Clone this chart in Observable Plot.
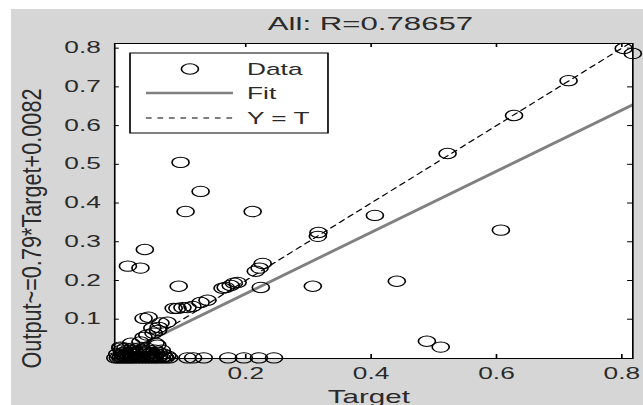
<!DOCTYPE html>
<html><head><meta charset="utf-8">
<script src="https://cdn.jsdelivr.net/npm/d3@7"></script>
<script src="https://cdn.jsdelivr.net/npm/@observablehq/plot@0.6"></script>
<style>
html,body{margin:0;padding:0;background:#fff;overflow:hidden;}
#wrap{position:absolute;left:11px;top:9px;width:632px;height:396px;background:#d6d6d6;}
</style></head><body><div id="wrap"></div>
<script>
// ---- data ----
const targets = [
  0.803, 0.8175, 0.715, 0.628, 0.522, 0.406, 0.607, 0.441, 0.489, 0.511,
  0.316, 0.315, 0.307, 0.096, 0.128, 0.104, 0.211, 0.039, 0.012, 0.032,
  0.093, 0.224, 0.227, 0.216, 0.222, 0.181, 0.168, 0.163, 0.176, 0.187,
  0.085, 0.099, 0.115, 0.128, 0.139, 0.091, 0.107, 0.037, 0.045, 0.064,
  0.075, 0.051, 0.061, 0.043, 0.053, 0.060, 0.037, 0.056, 0.059, 0.032,
  0.017, 0.000,
  0.107, 0.116, 0.133, 0.172, 0.197, 0.221, 0.245,
  -0.008, -0.004, 0.000, 0.004, 0.008, 0.012, 0.016, 0.020, 0.025, 0.030,
  0.035, 0.040, 0.045, 0.050, 0.055, 0.060, 0.066, 0.072, 0.078,
  -0.005, 0.003, 0.010, 0.018, 0.027, 0.036, 0.046, 0.057, 0.068,
  0.002, 0.012, 0.022, 0.033, 0.044, 0.055, 0.066,
  0.006, 0.031, 0.052, 0.075,
  0.001, 0.009, 0.014, 0.021, 0.028, 0.034, 0.041, 0.048, 0.054, 0.062, 0.070,
  0.005, 0.015, 0.024, 0.038, 0.049, 0.061,
  0.000, 0.008, 0.019, 0.029, 0.042
];
const outputs = [
  0.799, 0.786, 0.716, 0.626, 0.528, 0.368, 0.330, 0.198, 0.043, 0.028,
  0.324, 0.314, 0.185, 0.505, 0.430, 0.378, 0.378, 0.280, 0.237, 0.232,
  0.185, 0.182, 0.244, 0.224, 0.232, 0.193, 0.182, 0.180, 0.187, 0.195,
  0.128, 0.130, 0.133, 0.143, 0.149, 0.128, 0.130, 0.102, 0.105, 0.090,
  0.092, 0.077, 0.079, 0.059, 0.064, 0.071, 0.053, 0.038, 0.033, 0.041,
  0.038, 0.028,
  0, 0, 0, 0, 0, 0, 0,
  0, 0, 0, 0, 0, 0, 0, 0, 0, 0,
  0, 0, 0, 0, 0, 0, 0, 0, 0,
  0.010, 0.010, 0.010, 0.010, 0.010, 0.010, 0.010, 0.010, 0.010,
  0.020, 0.020, 0.020, 0.020, 0.020, 0.020, 0.020,
  0.005, 0.005, 0.005, 0.005,
  0.003, 0.003, 0.003, 0.003, 0.003, 0.003, 0.003, 0.003, 0.003, 0.003, 0.003,
  0.014, 0.014, 0.014, 0.014, 0.014, 0.014,
  0.025, 0.025, 0.025, 0.025, 0.025
];
const xTicks = [0.2, 0.4, 0.6, 0.8];
const yTicks = [0.1, 0.2, 0.3, 0.4, 0.5, 0.6, 0.7, 0.8];
const xLimits = [-0.009, 0.8175];
const yLimits = [-0.0015, 0.812];
const fitSlope = 0.79;
const fitIntercept = 0.0082;
const titleText = "All: R=0.78657";
const xLabelText = "Target";
const yLabelText = "Output~=0.79*Target+0.0082";
const legendLabels = ["Data", "Fit", "Y = T"];

// ---- layout (the original image is stretched horizontally) ----
const W = 385, H = 396;
const mL = 62.7, mR = 6.7, mT = 34, mB = 47;
const frameW = W - mL - mR, frameH = H - mT - mB;
const font = "Liberation Sans, Arial, Helvetica, sans-serif";

const points = targets.map((t, i) => ({t, o: outputs[i]}));
const fitLine = xLimits.map(x => ({x, y: fitSlope * x + fitIntercept}));
const idLine = xLimits.map(x => ({x, y: x}));

const plot = Plot.plot({
  width: W, height: H,
  marginLeft: mL, marginRight: mR, marginTop: mT, marginBottom: mB,
  style: {background: "transparent", fontFamily: font, fontSize: "16px", color: "#2a2a2a"},
  x: {domain: xLimits},
  y: {domain: yLimits},
  marks: [
    Plot.frame({fill: "white", stroke: null}),
    Plot.tickX(xTicks, {x: d => d, insetTop: frameH - 4, stroke: "#000"}),
    Plot.tickX(xTicks, {x: d => d, insetBottom: frameH - 4, stroke: "#000"}),
    Plot.tickY(yTicks, {y: d => d, insetRight: frameW - 3, stroke: "#000"}),
    Plot.tickY(yTicks, {y: d => d, insetLeft: frameW - 3, stroke: "#000"}),
    Plot.axisX({ticks: xTicks, tickSize: 0, tickPadding: 9, tickFormat: d3.format(".1f"), fontSize: 16, label: null}),
    Plot.axisY({ticks: yTicks, tickSize: 0, tickPadding: 8.5, tickFormat: d3.format(".1f"), fontSize: 16, label: null}),
    Plot.line(idLine, {x: "x", y: "y", stroke: "#000", strokeWidth: 1, strokeDasharray: "4,3.5", clip: true}),
    Plot.line(fitLine, {x: "x", y: "y", stroke: "#808080", strokeWidth: 2.5, clip: true}),
    Plot.frame({stroke: "#000", strokeWidth: 1}),
    Plot.dot(points, {x: "t", y: "o", r: 5.2, stroke: "#000", strokeWidth: 1, fill: "none"}),
    Plot.text([titleText], {text: d => d, frameAnchor: "top", lineAnchor: "middle", dy: -20, dx: -2, fontSize: 19, fill: "#2a2a2a"}),
    Plot.text([xLabelText], {text: d => d, frameAnchor: "bottom", lineAnchor: "bottom", dy: 44, dx: -3, fontSize: 18, fill: "#2a2a2a"}),
    Plot.text([yLabelText], {text: d => d, frameAnchor: "left", textAnchor: "middle", lineAnchor: "middle", rotate: -90, dx: -50, dy: 27.5, fontSize: 16.5, fill: "#2a2a2a"})
  ]
});

// stretch horizontally like the reference picture
plot.setAttribute("viewBox", `0 0 ${W} ${H}`);
plot.setAttribute("width", 632);
plot.setAttribute("height", 396);
plot.setAttribute("preserveAspectRatio", "none");
plot.style.maxWidth = "none";
plot.style.width = "632px";
plot.style.height = "396px";
plot.style.overflow = "visible";

// legend
const lg = d3.select(plot).append("g").attr("font-family", font).attr("font-size", 16)
  .attr("fill", "#2a2a2a").attr("text-anchor", "start");
lg.append("rect").attr("x", 72.5).attr("y", 44).attr("width", 120.6).attr("height", 80)
  .attr("fill", "white").attr("stroke", "#000").attr("stroke-width", 1);
const rowY = [60, 84, 109];
lg.append("circle").attr("cx", 109).attr("cy", rowY[0]).attr("r", 5.2).attr("fill", "none").attr("stroke", "#000");
lg.append("line").attr("x1", 82.2).attr("x2", 135.2).attr("y1", rowY[1]).attr("y2", rowY[1])
  .attr("stroke", "#808080").attr("stroke-width", 2.5);
lg.append("line").attr("x1", 82.2).attr("x2", 135.2).attr("y1", rowY[2]).attr("y2", rowY[2])
  .attr("stroke", "#000").attr("stroke-width", 1).attr("stroke-dasharray", "3.5,3.5");
legendLabels.forEach((s, i) => {
  lg.append("text").attr("x", 143.8).attr("y", rowY[i]).attr("dy", "0.35em")
    .attr("text-anchor", "start").text(s);
});

document.getElementById("wrap").appendChild(plot);

// y label length along the axis
d3.select(plot).selectAll("text").each(function () {
  if (this.textContent === yLabelText) {
    this.setAttribute("textLength", 280);
    this.setAttribute("lengthAdjust", "spacingAndGlyphs");
  }
});
</script>
</body></html>
